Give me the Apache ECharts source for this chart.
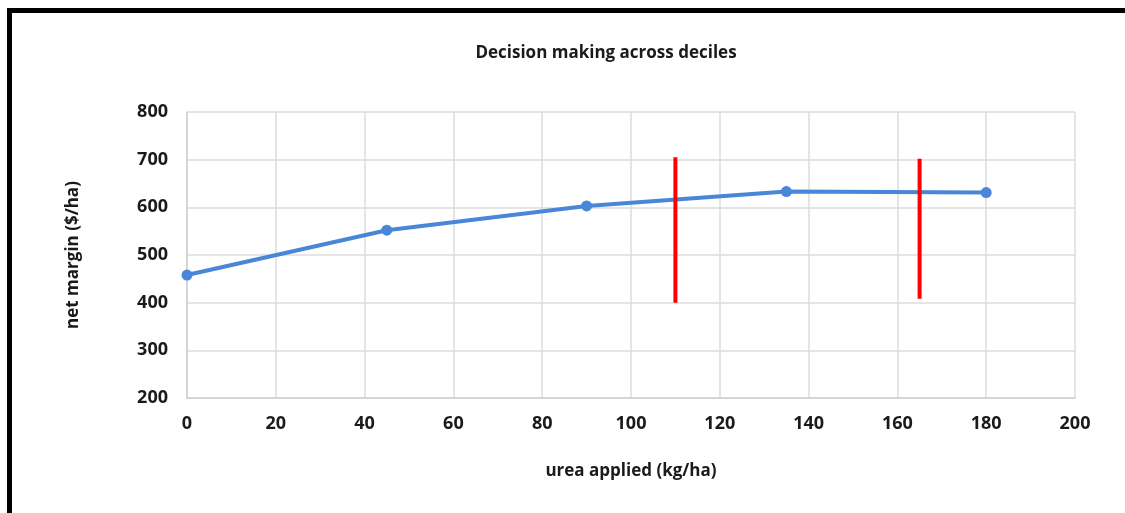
<!DOCTYPE html>
<html>
<head>
<meta charset="utf-8">
<script src="https://cdn.jsdelivr.net/npm/echarts@6/dist/echarts.min.js"></script>
<style>
html,body{margin:0;padding:0;background:#fff;}
#frame{position:absolute;left:7px;top:8px;width:1130px;height:520px;border-top:5px solid #000;border-left:5px solid #000;}
#chart{position:absolute;left:0;top:0;width:1125px;height:513px;}
</style>
</head>
<body>
<div id="frame"></div>
<div id="chart"></div>
<script>
const titleText = 'Decision making across deciles';
const xName = 'urea applied (kg/ha)';
const yName = 'net margin ($/ha)';
const ureaApplied = [0, 45, 90, 135, 180];
const netMargin = [458, 552, 603, 633, 631];
const decileLineX = [110, 165];
const decileLineLow = [400, 408];
const decileLineHigh = [705, 702];

const chart = echarts.init(document.getElementById('chart'));
const font = 'Open Sans, Liberation Sans, sans-serif';
const series = [{
  type: 'line',
  data: ureaApplied.map((x, i) => [x, netMargin[i]]),
  symbol: 'circle',
  symbolSize: 11,
  lineStyle: {color: '#4a86d8', width: 4},
  itemStyle: {color: '#4a86d8'},
  z: 3
}];
decileLineX.forEach((x, i) => {
  series.push({
    type: 'line',
    data: [[x, decileLineLow[i]], [x, decileLineHigh[i]]],
    symbol: 'none',
    lineStyle: {color: '#ff0000', width: 4},
    z: 4
  });
});
chart.setOption({
  animation: false,
  title: {
    text: titleText, left: 601, top: 40, textAlign: 'center',
    textStyle: {fontFamily: font, fontSize: 17, fontWeight: 'bold', color: '#1a1a1a'}
  },
  grid: {left: 187, right: 50, top: 112, bottom: 115},
  xAxis: {
    type: 'value', min: 0, max: 200, interval: 20,
    name: xName, nameLocation: 'middle', nameGap: 65,
    nameTextStyle: {fontFamily: font, fontSize: 17, fontWeight: 'bold', color: '#1a1a1a'},
    axisLine: {show: true, lineStyle: {color: '#d0d0d0', width: 1.5}},
    axisTick: {show: false},
    axisLabel: {margin: 17, fontFamily: font, fontSize: 18, fontWeight: 'bold', color: '#1a1a1a'},
    splitLine: {show: true, lineStyle: {color: '#dcdcdc', width: 1.5}}
  },
  yAxis: {
    type: 'value', min: 200, max: 800, interval: 100,
    name: yName, nameLocation: 'middle', nameGap: 105,
    nameTextStyle: {fontFamily: font, fontSize: 17, fontWeight: 'bold', color: '#1a1a1a'},
    axisLine: {show: true, lineStyle: {color: '#d0d0d0', width: 1.5}},
    axisTick: {show: false},
    axisLabel: {margin: 19, fontFamily: font, fontSize: 18, fontWeight: 'bold', color: '#1a1a1a'},
    splitLine: {show: true, lineStyle: {color: '#dcdcdc', width: 1.5}}
  },
  series: series
});
</script>
</body>
</html>
